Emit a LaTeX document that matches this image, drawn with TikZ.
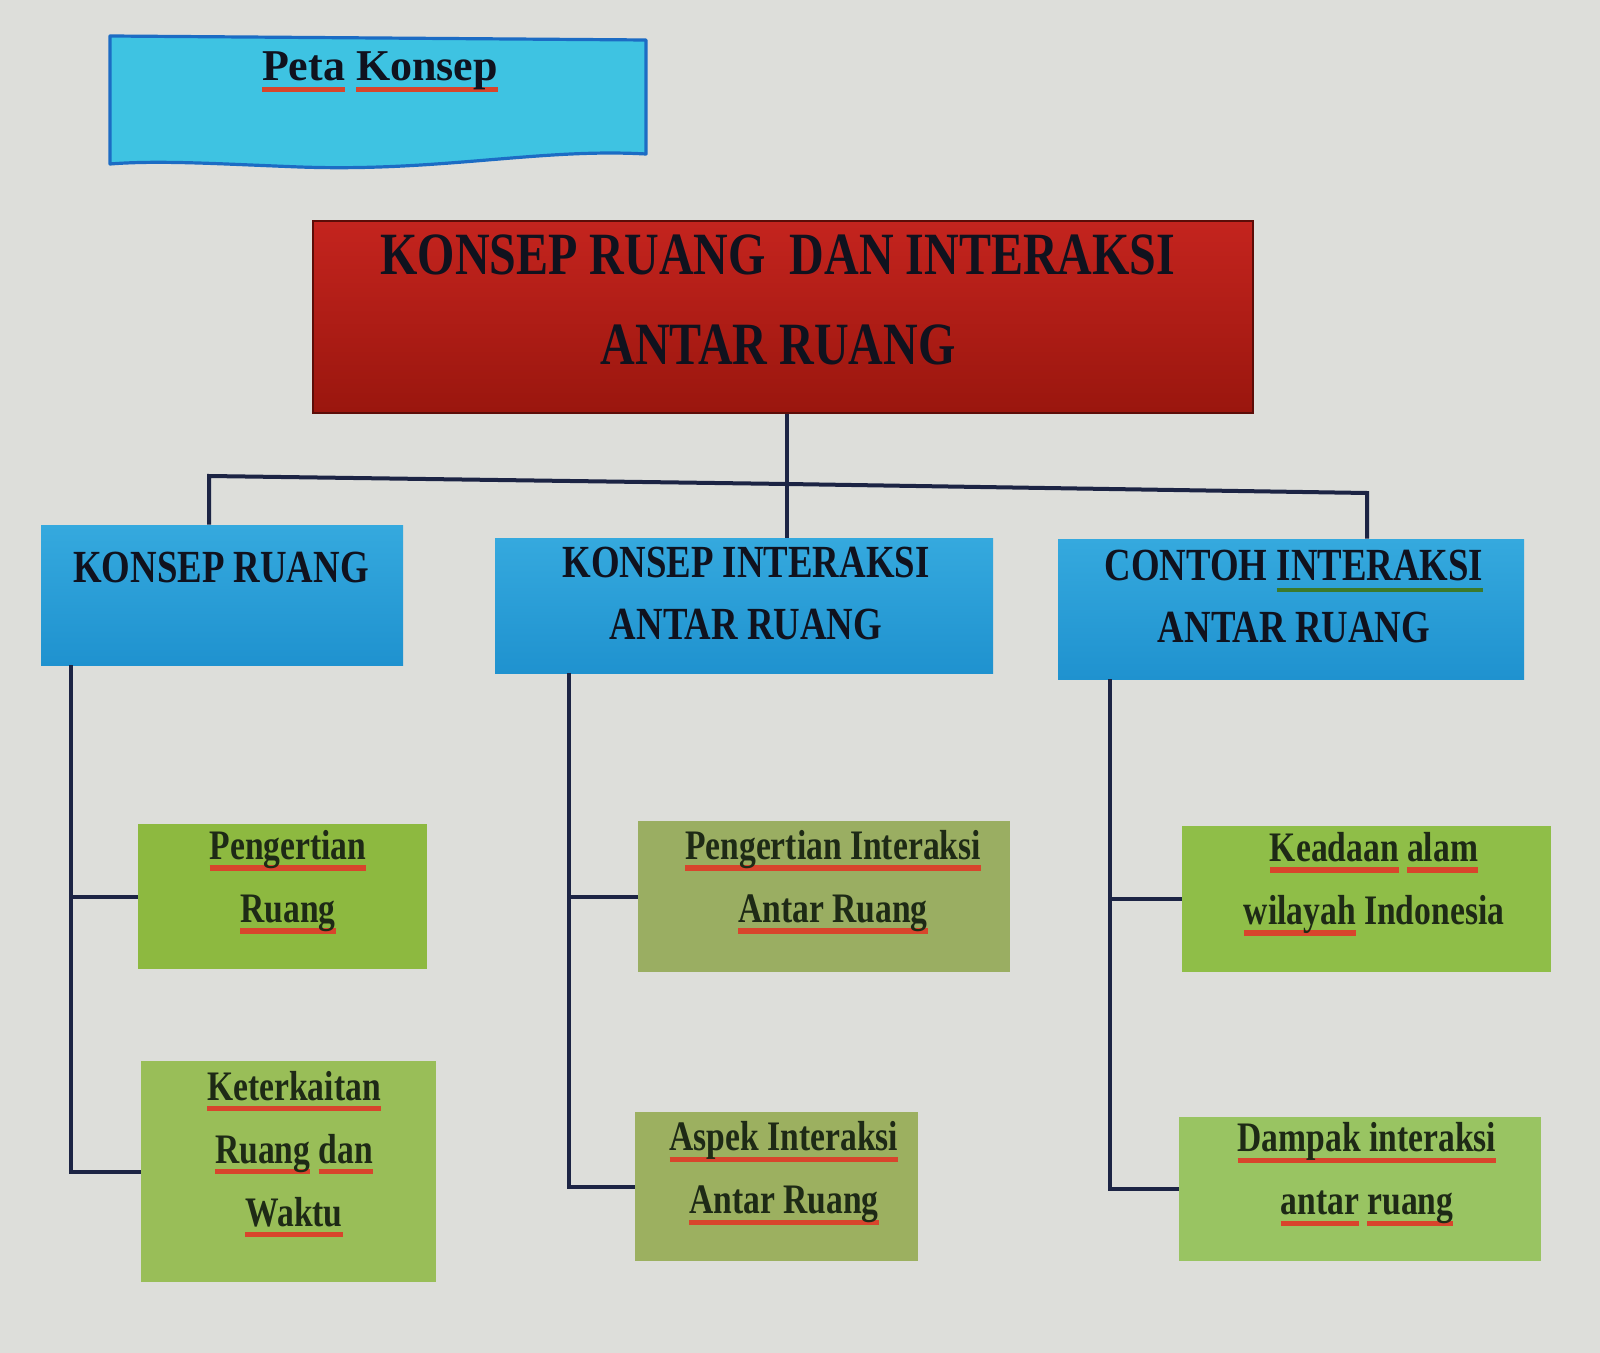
\documentclass[tikz,border=0pt]{standalone}
\usepackage{fontspec}
\setmainfont{Liberation Serif}
\newfontfamily\cond[FakeStretch=0.8]{Liberation Serif}
\definecolor{bg}{HTML}{DDDEDA}
\definecolor{linec}{HTML}{1C2444}
\definecolor{spellred}{HTML}{D8452C}
\definecolor{spellgreen}{HTML}{3C7A2C}
\definecolor{redtop}{HTML}{C4241E}
\definecolor{redbot}{HTML}{9A160E}
\definecolor{bluetop}{HTML}{35A9DE}
\definecolor{bluebot}{HTML}{1F92CF}
\definecolor{cyanfill}{HTML}{3EC3E2}
\definecolor{cyanedge}{HTML}{1C6CC4}
\definecolor{gA}{HTML}{8DB940}
\definecolor{gB}{HTML}{99BE58}
\definecolor{gC}{HTML}{9AAE62}
\definecolor{gD}{HTML}{9CB060}
\definecolor{gE}{HTML}{8FBE48}
\definecolor{gF}{HTML}{99C462}
\definecolor{capc}{HTML}{10121E}
\definecolor{greentxt}{HTML}{1E2A16}
\newsavebox\splbox
\newcommand\spl[1]{\sbox\splbox{#1}\rlap{\textcolor{spellred}{\rule[-0.26em]{\wd\splbox}{0.12em}}}\usebox\splbox}
\newcommand\splg[1]{\sbox\splbox{#1}\rlap{\textcolor{spellgreen}{\rule[-0.26em]{\wd\splbox}{0.09em}}}\usebox\splbox}
\begin{document}
\begin{tikzpicture}[x=0.5pt,y=-0.5pt,
  box/.style={draw=none,inner sep=0pt},
  redbox/.style={box,top color=redtop,bottom color=redbot,draw=redbot!60!black,line width=1.2pt},
  bluebox/.style={box,top color=bluetop,bottom color=bluebot},
  greenbox/.style={box},
  redtxt/.style={font=\cond\bfseries\fontsize{30}{45}\selectfont,text=capc,align=center,inner sep=0pt},
  bluetxt/.style={font=\cond\bfseries\fontsize{23}{31}\selectfont,text=capc,align=center,inner sep=0pt},
  greentxt/.style={font=\cond\bfseries\fontsize{21}{31.5}\selectfont,text=greentxt,align=center,inner sep=0pt},
  conn/.style={draw=linec,line width=2pt}]
\useasboundingbox (0,0) rectangle (1600,1353);
\fill[bg] (0,0) rectangle (1600,1353);

% Peta Konsep (document shape)
\draw[fill=cyanfill,draw=cyanedge,line width=1.6pt,line join=round]
  (110,36) -- (646,40) -- (646,154)
  .. controls (540,148) and (440,172) .. (300,167)
  .. controls (220,164) and (160,160) .. (110,164) -- cycle;
\node[font=\bfseries\fontsize{22}{26}\selectfont,text=capc,inner sep=0pt] (peta) at (380,72) {\spl{Peta} \spl{Konsep}};

% main box
\node[redbox,minimum width=470pt,minimum height=96pt] (main) at (783,317) {};
\node[redtxt] (maint) at (778,300) {KONSEP RUANG\ \ DAN INTERAKSI\\ANTAR RUANG};

% blue boxes
\node[bluebox,minimum width=181pt,minimum height=70pt] (b1) at (222,595) {};
\node[bluebox,minimum width=249pt,minimum height=67.5pt] (b2) at (744,605.5) {};
\node[bluebox,minimum width=233pt,minimum height=70pt] (b3) at (1291,609) {};
\node[bluetxt] (b1t) at (221,567) {KONSEP RUANG};
\node[bluetxt] (b2t) at (746,593) {KONSEP INTERAKSI\\ANTAR RUANG};
\node[bluetxt] (b3t) at (1294,596) {CONTOH \splg{INTERAKSI}\\ANTAR RUANG};

% green boxes
\node[greenbox,fill=gA,minimum width=144.5pt,minimum height=72.5pt] (g1) at (282.5,896.5) {};
\node[greenbox,fill=gB,minimum width=147.5pt,minimum height=110.5pt] (g2) at (288.5,1171.5) {};
\node[greenbox,fill=gC,minimum width=186pt,minimum height=75.5pt] (g3) at (824,896.5) {};
\node[greenbox,fill=gD,minimum width=141.5pt,minimum height=74.5pt] (g4) at (776.5,1186.5) {};
\node[greenbox,fill=gE,minimum width=184.5pt,minimum height=73pt] (g5) at (1366.5,899) {};
\node[greenbox,fill=gF,minimum width=181pt,minimum height=72pt] (g6) at (1360,1189) {};

\node[greentxt] (g1t) at (288,882) {\spl{Pengertian}\\\spl{Ruang}};
\node[greentxt] (g2t) at (294,1154) {\spl{Keterkaitan}\\\spl{Ruang} \spl{dan}\\\spl{Waktu}};
\node[greentxt] (g3t) at (833,882) {\spl{Pengertian Interaksi}\\\spl{Antar Ruang}};
\node[greentxt] (g4t) at (784,1173) {\spl{Aspek Interaksi}\\\spl{Antar Ruang}};
\node[greentxt] (g5t) at (1374,884) {\spl{Keadaan} \spl{alam}\\\spl{wilayah} Indonesia};
\node[greentxt] (g6t) at (1367,1174) {\spl{Dampak interaksi}\\\spl{antar} \spl{ruang}};

% connectors top
\coordinate (jl) at (209,476);
\coordinate (jm) at (787,484);
\coordinate (jr) at (1367,493);
\draw[conn] (main.south -| jm) -- (jm);
\draw[conn,line join=miter] (b1.north -| jl) -- (jl) -- (jm) -- (jr) -- (b3.north -| jr);
\draw[conn] (jm) -- (b2.north -| jm);

% left bracket
\coordinate (lx) at (71,0);
\draw[conn] (b1.south -| lx) |- (g2.west);
\draw[conn] (g1.west -| lx) -- (g1.west);
% middle bracket
\coordinate (mx) at (569,0);
\draw[conn] (b2.south -| mx) |- (g4.west);
\draw[conn] (g3.west -| mx) -- (g3.west);
% right bracket
\coordinate (rx) at (1110,0);
\draw[conn] (b3.south -| rx) |- (g6.west);
\draw[conn] (g5.west -| rx) -- (g5.west);
\end{tikzpicture}
\end{document}
